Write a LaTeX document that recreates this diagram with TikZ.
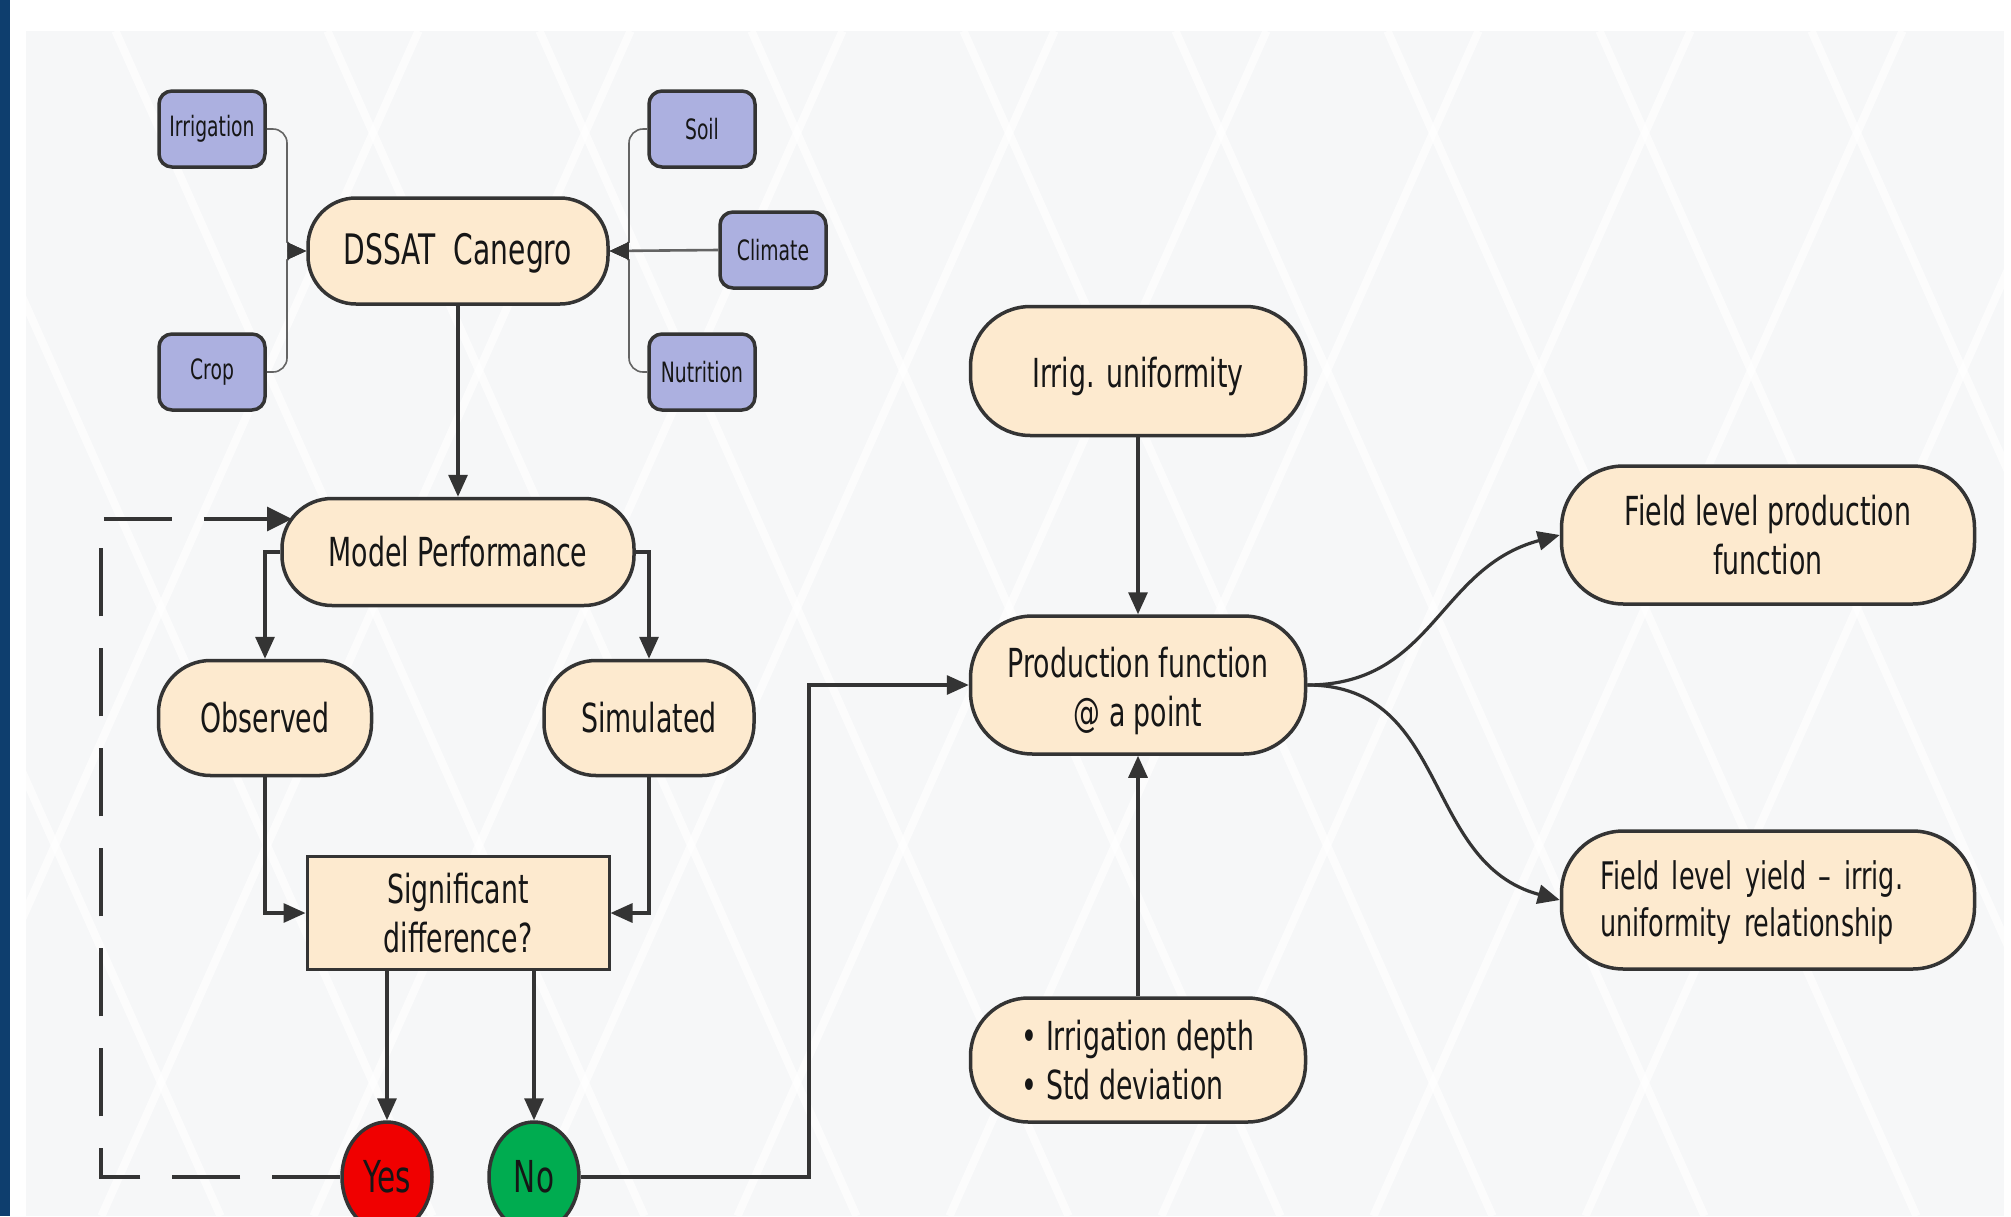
\documentclass[tikz,border=0pt]{standalone}
\usepackage{fontspec}
\setmainfont[FakeStretch=0.67]{DejaVu Sans}
\usetikzlibrary{arrows.meta,calc,shapes.geometric}
\definecolor{peach}{RGB}{253,234,207}
\definecolor{dk}{RGB}{52,52,52}
\definecolor{lav}{RGB}{172,176,224}
\definecolor{yesred}{RGB}{240,0,0}
\definecolor{nogreen}{RGB}{0,172,80}
\definecolor{panel}{RGB}{246,247,248}
\definecolor{barblue}{RGB}{14,62,110}
\definecolor{txt}{RGB}{22,22,22}
\definecolor{thinline}{RGB}{100,100,100}
\tikzset{
  base/.style={draw=dk, line width=3.5pt, text=txt, align=center, inner sep=4pt},
  pill/.style={base, fill=peach, rounded corners=#1},
  pill/.default=45pt,
  inbox/.style={base, fill=lav, rounded corners=13pt, minimum width=106pt, minimum height=76pt, font=\fontsize{28}{32}\selectfont},
  big/.style={font=\fontsize{40}{49}\selectfont},
  decision/.style={base, ellipse, minimum width=90pt, minimum height=110pt, inner sep=0pt, font=\fontsize{44}{50}\selectfont},
  conn/.style={line width=3.2pt, draw=dk, -{Triangle[length=22pt,width=19pt]}},
  thinconn/.style={line width=1.6pt, draw=thinline, rounded corners=14pt, -{Triangle[length=19pt,width=17pt,color=dk]}},
  feedback/.style={conn, dash pattern=on 68pt off 32pt, -{Triangle[length=25pt,width=24pt]}},
  stripe/.style={white, line width=8pt, opacity=0.7}
}
\begin{document}
\begin{tikzpicture}[x=1pt,y=-1pt]
\useasboundingbox (0,0) rectangle (2011,1216);
% background
\fill[white] (0,0) rectangle (2011,1216);
\fill[barblue] (0,0) rectangle (10,1216);
\fill[panel] (26,31) rectangle (2004,1216);
\begin{scope}
  \clip (26,31) rectangle (2004,1216);
  \foreach \k in {-10,...,2}{
    \draw[stripe] ({1599.5+212*\k},31) -- ({2128.5+212*\k},1216);
  }
  \foreach \m in {-6,...,2}{
    \draw[stripe] ({1690.5+212*\m},31) -- ({1161.5+212*\m},1216);
  }
\end{scope}

% input boxes
\node[inbox] (irr) at (212,129) {Irrigation};
\node[inbox] (crop) at (212,372) {Crop};
\node[inbox] (soil) at (702,129) {Soil};
\node[inbox] (clim) at (773,250) {Climate};
\node[inbox] (nut) at (702,372) {Nutrition};

% main flow
\node[pill=48pt, minimum width=300pt, minimum height=106pt, font=\fontsize{42}{50}\selectfont] (dssat) at (458,251) {\rule{0pt}{36pt}DSSAT\ \ Canegro};
\node[pill=50pt, minimum width=352pt, minimum height=107pt, big] (model) at (458,552) {Model Performance};
\node[pill=52pt, minimum width=213pt, minimum height=115pt, big] (obs) at (265,718) {Observed};
\node[pill=52pt, minimum width=210pt, minimum height=115pt, big] (sim) at (649,718) {Simulated};
\node[base, fill=peach, line width=3pt, minimum width=302pt, minimum height=113pt, big] (sig) at (458,913) {Significant\\difference?};
\node[decision, fill=yesred] (yes) at (387,1177) {Yes};
\node[decision, fill=nogreen] (no) at (534,1177) {No};

\node[pill=60pt, minimum width=335pt, minimum height=129pt, big] (iu) at (1138,371) {\rule{0pt}{42pt}Irrig. uniformity};
\node[pill=62pt, minimum width=335pt, minimum height=138pt, big] (prod) at (1138,685) {\rule{0pt}{42pt}Production function\\@ a point};
\node[pill=58pt, minimum width=335pt, minimum height=124pt, big, align=left] (dep) at (1138,1060) {• Irrigation depth\\• Std deviation};
\node[pill=62pt, minimum width=413pt, minimum height=138pt, big] (fp) at (1768,535) {Field level production\\function};
\node[pill=62pt, minimum width=413pt, minimum height=138pt, font=\fontsize{38}{47}\selectfont, text width=335pt, align=left] (fy) at (1768,900) {\rule{0pt}{33pt}Field level yield – irrig.\\uniformity relationship};

% inputs into DSSAT
\coordinate (jlt) at (287,228);
\coordinate (jlb) at (287,274);
\coordinate (jrt) at (629,228);
\coordinate (jrb) at (629,274);
\draw[thinconn] (irr.east) -| (jlt) to[out=-90,in=180] (dssat.west);
\draw[thinconn] (crop.east) -| (jlb) to[out=90,in=180] (dssat.west);
\draw[thinconn] (soil.west) -| (jrt) to[out=-90,in=0] (dssat.east);
\draw[thinconn] (nut.west) -| (jrb) to[out=90,in=0] (dssat.east);
\draw[line width=2.6pt, draw=thinline, -{Triangle[length=19pt,width=17pt,color=dk]}] (clim.west) -- (dssat.east);

% main connectors
\draw[conn] (dssat.south) -- (model.north);
\draw[conn] (model.west) -| (obs.north);
\draw[conn] (model.east) -| (sim.north);
\draw[conn] (obs.south) |- (sig.west);
\draw[conn] (sim.south) |- (sig.east);
\draw[conn] (sig.south -| yes.north) -- (yes.north);
\draw[conn] (sig.south -| no.north) -- (no.north);
\coordinate (fb) at (101,519);
\coordinate (fbend) at (292,519);
\draw[feedback] (yes.west) -| (fb) -- (fbend);
\coordinate (nb) at (809,685);
\draw[conn] (no.east) -| (nb) -- (prod.west);
\draw[conn] (iu.south) -- (prod.north);
\draw[conn] (dep.north) -- (prod.south);
\draw[conn] (prod.east) to[out=0,in=195,looseness=1.1] (fp.west);
\draw[conn] (prod.east) to[out=0,in=165,looseness=1.1] (fy.west);
\end{tikzpicture}
\end{document}
